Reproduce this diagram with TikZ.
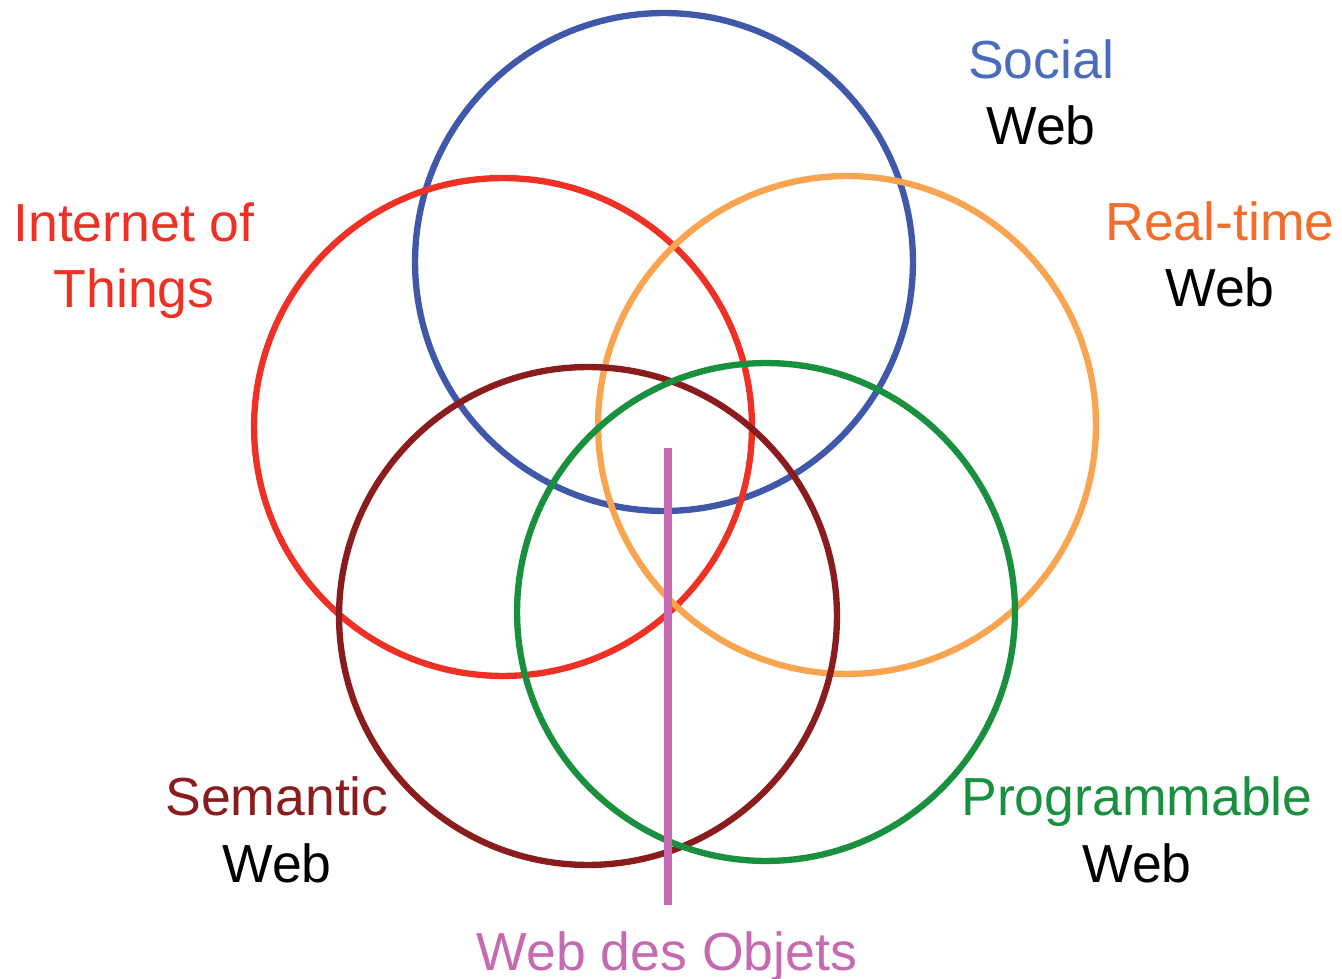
\documentclass[tikz,border=0pt]{standalone}
\usepackage{fontspec}
\setmainfont{Liberation Sans}
\usetikzlibrary{positioning}
\definecolor{socialblue}{HTML}{3F58AA}
\definecolor{socialtext}{HTML}{4A6CBC}
\definecolor{iotred}{HTML}{EE3124}
\definecolor{rtorange}{HTML}{F9A450}
\definecolor{rttext}{HTML}{F26C2C}
\definecolor{semred}{HTML}{8B1C1E}
\definecolor{proggreen}{HTML}{18903E}
\definecolor{wdopink}{HTML}{C56AB0}

\begin{document}
\begin{tikzpicture}[x=0.02cm, y=-0.02cm,
    ring/.style={draw, circle, line width=3.6pt, minimum size=9.96cm, inner sep=0pt},
    lbl/.style={align=center, font=\fontsize{30.5}{37.6}\selectfont, inner sep=0pt, anchor=base}]
    \useasboundingbox (0,0) rectangle (1342,979);

    % the five webs
    \node[ring, draw=socialblue] (social) at (664,262) {};
    \node[ring, draw=iotred] (iot) at (503,427) {};
    \node[ring, draw=rtorange] (realtime) at (847,425) {};
    \node[ring, draw=semred] (semantic) at (588,616) {};
    \node[ring, draw=proggreen] (prog) at (766,612) {};

    % labels (base = last line)
    \node[lbl] (sociallbl) at (1041,145) {\textcolor{socialtext}{Social}\\Web};
    \node[lbl, text=iotred] (iotlbl) at (134,308) {Internet of\\Things};
    \node[lbl] (rtlbl) at (1220,307) {\textcolor{rttext}{Real-time}\\Web};
    \node[lbl] (semlbl) at (277,882) {\textcolor{semred}{Semantic}\\Web};
    \node[lbl] (proglbl) at (1137,882) {\textcolor{proggreen}{Programmable}\\Web};
    \node[lbl, text=wdopink] (wdolbl) at (667,970) {Web des Objets};

    % the web of things line
    \coordinate (wdotop) at (668,448);
    \coordinate (wdobot) at (668,905);
    \draw[wdopink, line width=4.6pt] (wdotop) -- (wdobot);
\end{tikzpicture}
\end{document}
